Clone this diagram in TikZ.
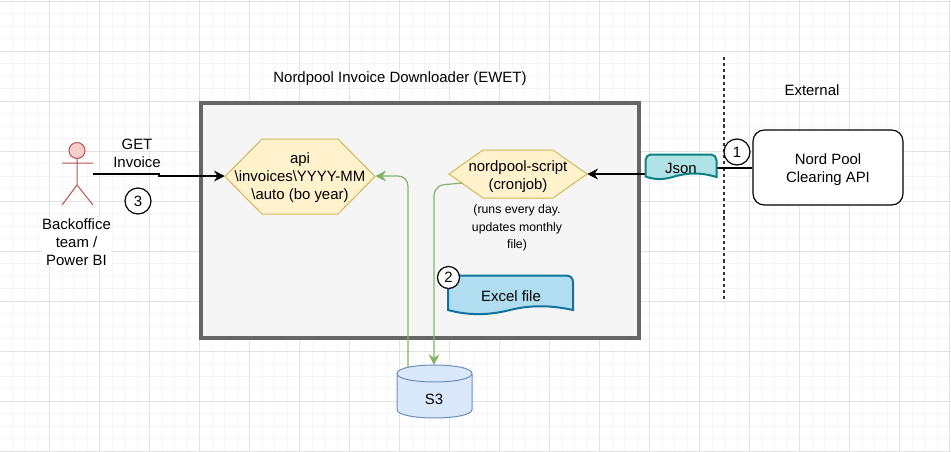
\documentclass[tikz,border=0pt]{standalone}
\usepackage{fontspec}
\setmainfont{Liberation Sans}
\usetikzlibrary{arrows.meta}

\definecolor{gridminor}{HTML}{F6F6F6}
\definecolor{gridmajor}{HTML}{E3E3E3}
\definecolor{frameline}{HTML}{666666}
\definecolor{framefill}{HTML}{F5F5F5}
\definecolor{hexline}{HTML}{D6B656}
\definecolor{hexfill}{HTML}{FFF2CC}
\definecolor{greenline}{HTML}{82B366}
\definecolor{actorline}{HTML}{B85450}
\definecolor{actorfill}{HTML}{F8CECC}
\definecolor{excelline}{HTML}{10739E}
\definecolor{excelfill}{HTML}{B1DDF0}
\definecolor{jsonline}{HTML}{0E8088}
\definecolor{jsonfill}{HTML}{B0E3E6}
\definecolor{dbline}{HTML}{6C8EBF}
\definecolor{dbfill}{HTML}{DAE8FC}

\tikzset{
  every node/.style={font=\fontsize{11.2}{13.5}\selectfont, align=center, inner sep=0pt},
  hexshape/.style={draw=hexline, fill=hexfill, line width=0.75pt},
  numbered/.style={circle, draw=black, fill=white, line width=0.9pt, minimum size=19.5pt},
  blackflow/.style={draw=black, line width=0.8pt, -{Stealth[length=8pt,width=8pt]}},
  greenflow/.style={draw=greenline, line width=0.9pt, rounded corners=7.5pt, -{Stealth[length=8pt,width=8pt]}},
}

\begin{document}
\begin{tikzpicture}[x=0.75pt, y=-0.75pt]
  \useasboundingbox (0,0) rectangle (951,451);
  \fill[white] (0,0) rectangle (951,451);

  % grid
  \foreach \i in {0,...,76} {
    \draw[gridminor, line width=0.75pt] ({12+12.5*\i},0) -- ({12+12.5*\i},451);
  }
  \foreach \i in {0,...,36} {
    \draw[gridminor, line width=0.75pt] (0,{13.5+12.5*\i}) -- (951,{13.5+12.5*\i});
  }
  \foreach \i in {0,...,18} {
    \draw[gridmajor, line width=0.75pt] ({49.5+50*\i},0) -- ({49.5+50*\i},451);
  }
  \foreach \i in {0,...,9} {
    \draw[gridmajor, line width=0.75pt] (0,{1+50*\i}) -- (951,{1+50*\i});
  }

  % frame
  \node (frame) at (419.5,220) [draw=frameline, fill=framefill, line width=3pt,
    minimum width=328.5pt, minimum height=176.25pt] {};
  \node (frametitle) at (400,78.5) {Nordpool Invoice Downloader (EWET)};

  % boundary
  \coordinate (boundtop) at (724,57);
  \coordinate (boundbot) at (724,301);
  \draw[black!80, line width=1.2pt, dash pattern=on 2.4pt off 2.2pt] (boundtop) -- (boundbot);
  \node (external) at (812,90) {External};

  % hexagons
  \draw[hexshape] (225,176.5) -- (262,139) -- (338,139) -- (375,176.5) -- (338,214) -- (262,214) -- cycle;
  \node (api) at (300,178) [minimum width=112.5pt, minimum height=56.25pt]
    {api\\ \textbackslash invoices\textbackslash YYYY-MM\\ \textbackslash auto (bo year)};
  \draw[hexshape] (449,174) -- (483,150) -- (553,150) -- (587,174) -- (553,198) -- (483,198) -- cycle;
  \node (script) at (518,176.5) [minimum width=103.5pt, minimum height=36pt] {nordpool-script\\ (cronjob)};
  \node (scriptnote) at (517,228) [font=\fontsize{9.2}{13.2}\selectfont] {(runs every day.\\ updates monthly\\ file)};
  \node (nordpool) at (828,167.5) [draw=black, fill=white, line width=0.9pt, rounded corners=8.5pt,
    minimum width=112.5pt, minimum height=56.25pt,
    label={[yshift=-1.7pt]center:{Nord Pool\\ Clearing API}}] {};

  % actor
  \node (head) at (77,150.5) [circle, draw=actorline, fill=actorfill, line width=0.75pt, minimum size=12pt] {};
  \coordinate (hip) at (77,185);
  \coordinate (hand) at (93,174);
  \draw[actorline, line width=0.75pt]
    (head) -- (hip) (62,163) -- (93,163)
    (62,205) -- (hip) -- (93,205);
  \node (actorlabel) at (76.5,242) [fill=white] {Backoffice\\ team /\\ Power BI};

  % connectors
  \draw[blackflow] (hand) -- (159,174) -- (159,176) -- (api.west |- 225,176);
  \node (getlabel) at (137,153) {GET\\ Invoice};
  \draw[blackflow] (nordpool.west |- 753,168) -- (680,168) -- (680,174) -- (script.east |- 587,174);
  \coordinate (dbout) at (408,367);
  \coordinate (dbin) at (434,365);
  \draw[greenflow] (dbout) -- (408,176) -- (api.east |- 375,176);
  \draw[greenflow] (script.west |- 463,183) ++(14,0) -- (434,185.5) -- (dbin);

  % documents
  \draw[excelline, fill=excelfill, line width=1.5pt]
    (448,310) -- (448,282) .. controls (448,278) and (451,275.5) .. (455,275.5)
    -- (566,275.5) .. controls (570,275.5) and (573,278) .. (573,282) -- (573,310)
    .. controls (550,305) and (530,305) .. (510,310)
    .. controls (490,315) and (470,316) .. (448,310) -- cycle;
  \node (excel) at (511,296) {Excel file};
  \draw[jsonline, fill=jsonfill, line width=1.5pt]
    (645.5,176.5) -- (645.5,160) .. controls (645.5,157) and (648,154.5) .. (651,154.5)
    -- (711,154.5) .. controls (714,154.5) and (716.5,157) .. (716.5,160) -- (716.5,177)
    .. controls (700,172) and (688,173) .. (676,176)
    .. controls (664,180) and (655,180) .. (645.5,176.5) -- cycle;
  \node (json) at (681,168.5) {Json};

  % database
  \path[draw=dbline, fill=dbfill, line width=0.75pt]
    (397,373.5) .. controls (397,362.2) and (472,362.2) .. (472,373.5)
    -- (472,409.5) .. controls (472,420.8) and (397,420.8) .. (397,409.5) -- cycle;
  \draw[dbline, line width=0.75pt] (397,373.5) .. controls (397,384.8) and (472,384.8) .. (472,373.5);
  \node (s3) at (434,399) {S3};

  % numbers
  \node (num1) at (737,152) [numbered] {1};
  \node (num2) at (448.5,277.5) [numbered, minimum size=16.5pt] {2};
  \node (num3) at (138,201) [numbered] {3};
\end{tikzpicture}
\end{document}
